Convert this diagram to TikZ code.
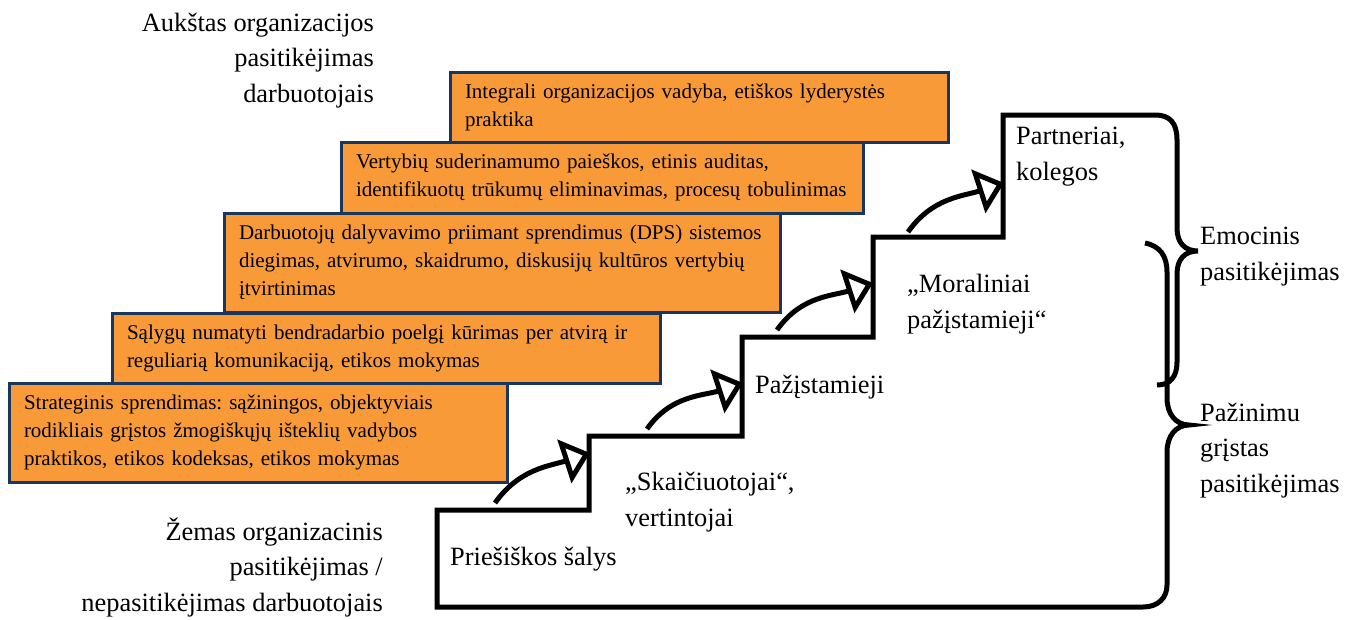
\documentclass[tikz,border=0pt]{standalone}
\usepackage{fontspec}
\setmainfont{Liberation Serif}
\usetikzlibrary{arrows.meta}
\definecolor{boxorange}{RGB}{248,154,56}
\definecolor{boxblue}{RGB}{23,55,94}
\frenchspacing

\begin{document}
\begin{tikzpicture}[
    x=1pt, y=1pt,
    % Orange boxes with the measures
    measurebox/.style={
        draw=boxblue,
        line width=3pt,
        fill=boxorange,
        anchor=north west,
        align=left,
        inner xsep=15pt,
        inner ysep=0pt,
        outer sep=0pt,
        font=\fontsize{21}{28}\selectfont
    },
    % Plain text labels (base = baseline of the last line)
    levellabel/.style={
        inner sep=0pt,
        font=\fontsize{26.4}{35.5}\selectfont
    },
    % Thick black stair outline
    stairline/.style={
        line width=5pt,
        line join=miter
    },
    % Curved arrows between the steps
    stairarrow/.style={
        line width=5pt,
        -{Triangle[fill=white, length=27pt, width=45pt]}
    }
]
    \useasboundingbox (0,0) rectangle (1355,-619);

    % ==========================================
    % MEASURE BOXES
    % ==========================================
    \node[measurebox, text width=468pt, minimum height=70pt] (measure1) at (450,-72)
        {Integrali organizacijos vadyba, etiškos lyderystės\\praktika};
    \node[measurebox, text width=492pt, minimum height=71pt] (measure2) at (341,-142)
        {Vertybių suderinamumo paieškos, etinis auditas,\\identifikuotų trūkumų eliminavimas, procesų tobulinimas};
    \node[measurebox, text width=526pt, minimum height=99pt] (measure3) at (224,-213)
        {Darbuotojų dalyvavimo priimant sprendimus (DPS) sistemos\\diegimas, atvirumo, skaidrumo, diskusijų kultūros vertybių\\įtvirtinimas};
    \node[measurebox, text width=518pt, minimum height=70pt] (measure4) at (112,-313)
        {Sąlygų numatyti bendradarbio poelgį kūrimas per atvirą ir\\reguliarią komunikaciją, etikos mokymas};
    \node[measurebox, text width=468pt, minimum height=99pt] (measure5) at (9,-383)
        {Strateginis sprendimas: sąžiningos, objektyviais\\rodikliais grįstos žmogiškųjų išteklių vadybos\\praktikos, etikos kodeksas, etikos mokymas};

    % ==========================================
    % TRUST LEVEL LABELS (LEFT)
    % ==========================================
    \node[levellabel, anchor=base east, align=right] (hightrust) at (374,-102)
        {Aukštas organizacijos\\pasitikėjimas\\darbuotojais};
    \node[levellabel, anchor=base east, align=right] (lowtrust) at (383,-611)
        {Žemas organizacinis\\pasitikėjimas /\\nepasitikėjimas darbuotojais};

    % ==========================================
    % STAIRCASE WITH BRACES
    % ==========================================
    \draw[stairline] (1145,-243)
        .. controls (1160,-246) and (1167,-256) .. (1167,-272)
        -- (1167,-398)
        .. controls (1167,-414) and (1176,-425) .. (1189,-425)
        .. controls (1176,-425) and (1167,-436) .. (1167,-452)
        -- (1167,-585)
        .. controls (1167,-598) and (1158,-607) .. (1143,-607)
        -- (437,-607) -- (437,-510) -- (589,-510) -- (589,-436)
        -- (742,-436) -- (742,-337) -- (873,-337) -- (873,-237)
        -- (1003,-237) -- (1003,-115) -- (1155,-115)
        .. controls (1170,-115) and (1177,-123) .. (1177,-140)
        -- (1177,-228)
        .. controls (1177,-243) and (1185,-251) .. (1198,-251)
        .. controls (1185,-251) and (1177,-259) .. (1177,-274)
        -- (1177,-362)
        .. controls (1177,-377) and (1170,-385) .. (1157,-385);

    % Step labels
    \node[levellabel, anchor=base west] (stage1) at (450,-565) {Priešiškos šalys};
    \node[levellabel, anchor=base west, align=left] (stage2) at (625,-526) {„Skaičiuotojai“,\\vertintojai};
    \node[levellabel, anchor=base west] (stage3) at (755,-393) {Pažįstamieji};
    \node[levellabel, anchor=base west, align=left] (stage4) at (907,-328) {„Moraliniai\\pažįstamieji“};
    \node[levellabel, anchor=base west, align=left] (stage5) at (1016,-180) {Partneriai,\\kolegos};

    % Arrow end points
    \coordinate (up1s) at (495,-503);
    \coordinate (up1e) at (590,-453);
    \coordinate (up2s) at (647,-429);
    \coordinate (up2e) at (743,-383);
    \coordinate (up3s) at (777,-330);
    \coordinate (up3e) at (873,-283);
    \coordinate (up4s) at (908,-232);
    \coordinate (up4e) at (1004,-183);

    \draw[stairarrow] (up1s) to[out=55, in=198] (up1e);
    \draw[stairarrow] (up2s) to[out=55, in=198] (up2e);
    \draw[stairarrow] (up3s) to[out=55, in=198] (up3e);
    \draw[stairarrow] (up4s) to[out=55, in=198] (up4e);

    % ==========================================
    % TRUST TYPE LABELS (RIGHT)
    % ==========================================
    \node[levellabel, anchor=base west, align=left] (emotional) at (1200,-280) {Emocinis\\pasitikėjimas};
    \node[levellabel, anchor=base west, align=left] (cognitive) at (1200,-492) {Pažinimu\\grįstas\\pasitikėjimas};

\end{tikzpicture}
\end{document}
